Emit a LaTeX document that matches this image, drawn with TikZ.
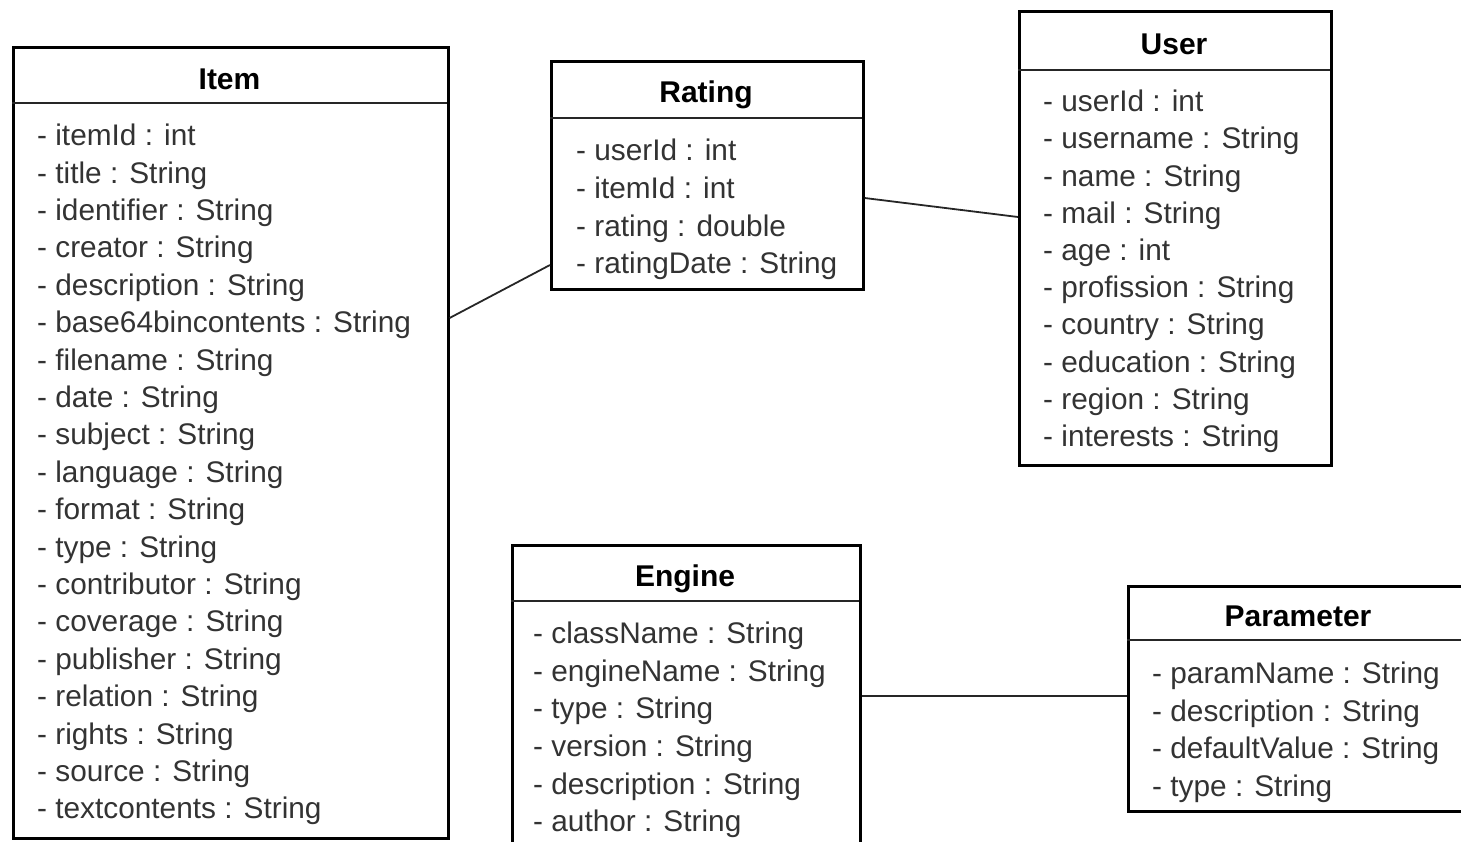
\documentclass[tikz,border=0pt]{standalone}
\usepackage{fontspec}
\setmainfont{Liberation Sans}
\begin{document}
\begin{tikzpicture}[x=1pt,y=-1pt,
  classbox/.style={draw=black,line width=2.6pt,inner sep=0pt,anchor=north west},
  sep/.style={line width=1.8pt,black!85},
  title/.style={font=\fontsize{30}{33}\selectfont\bfseries,text=black,inner sep=0pt},
  attr/.style={font=\fontsize{29.8}{33}\selectfont,text=black!80,inner sep=0pt,anchor=mid west},
  link/.style={line width=1.8pt,black!85}]
\useasboundingbox (0,0) rectangle (1461,842);
\clip (0,0) rectangle (1461,842);
% Item
\node[classbox,minimum width=435pt,minimum height=791pt] (item) at (12,46) {};
\draw[sep] (12,103) -- (447,103);
\node[title] (itemT) at (229.5,79) {Item};
\foreach \t [count=\i from 0] in {itemId : int,title : String,identifier : String,creator : String,description : String,base64bincontents : String,filename : String,date : String,subject : String,language : String,format : String,type : String,contributor : String,coverage : String,publisher : String,relation : String,rights : String,source : String,textcontents : String}
  \node[attr] (itemA\i) at (37,143+37.4*\i) {- \t};
% Rating
\node[classbox,minimum width=312pt,minimum height=228pt] (rating) at (550,60) {};
\draw[sep] (550,118) -- (862,118);
\node[title] (ratingT) at (706,95) {Rating};
\foreach \t [count=\i from 0] in {userId : int,itemId : int,rating : double,ratingDate : String}
  \node[attr] (ratingA\i) at (576,158+37.7*\i) {- \t};
% User
\node[classbox,minimum width=312pt,minimum height=454pt] (user) at (1018,10) {};
\draw[sep] (1018,70) -- (1330,70);
\node[title] (userT) at (1174,44) {User};
\foreach \t [count=\i from 0] in {userId : int,username : String,name : String,mail : String,age : int,profission : String,country : String,education : String,region : String,interests : String}
  \node[attr] (userA\i) at (1043,109+37.2*\i) {- \t};
% Engine
\node[classbox,minimum width=348pt,minimum height=320pt] (engine) at (511,544) {};
\draw[sep] (511,601) -- (859,601);
\node[title] (engineT) at (685,579) {Engine};
\foreach \t [count=\i from 0] in {className : String,engineName : String,type : String,version : String,description : String,author : String}
  \node[attr] (engineA\i) at (533,641+37.6*\i) {- \t};
% Parameter
\node[classbox,minimum width=350pt,minimum height=225pt] (param) at (1127,585) {};
\draw[sep] (1127,640) -- (1477,640);
\node[title] (paramT) at (1298,616) {Parameter};
\foreach \t [count=\i from 0] in {paramName : String,description : String,defaultValue : String,type : String}
  \node[attr] (paramA\i) at (1152,681+37.6*\i) {- \t};
% connectors
\coordinate (itemR) at ([yshift=-272pt]item.north east);
\coordinate (ratingL) at ([yshift=-205pt]rating.north west);
\coordinate (ratingR) at ([yshift=-138pt]rating.north east);
\coordinate (userL) at ([yshift=-207pt]user.north west);
\draw[link] (itemR) -- (ratingL);
\draw[link] (ratingR) -- (userL);
\draw[link] (engine.east |- 0,696) -- (param.west |- 0,696);
\end{tikzpicture}
\end{document}
